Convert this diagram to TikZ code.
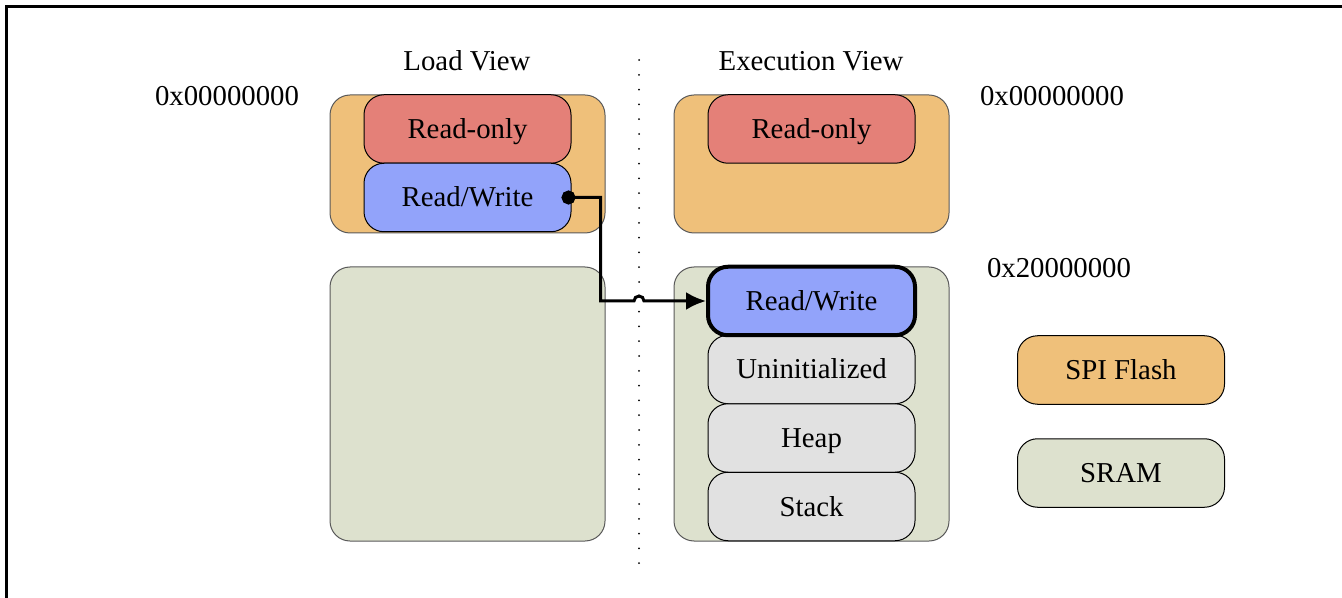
\documentclass[tikz,border=0pt]{standalone}
\usepackage{fontspec}
\setmainfont{Liberation Serif}
\usetikzlibrary{arrows.meta}

\definecolor{flashorange}{RGB}{239,192,122}
\definecolor{rored}{RGB}{228,128,120}
\definecolor{rwblue}{RGB}{146,163,250}
\definecolor{sramgreen}{RGB}{221,225,206}
\definecolor{segrey}{RGB}{225,225,225}

\tikzset{
  region/.style={draw=black!65, line width=0.5pt, rounded corners=10pt,
    minimum width=137.5pt, minimum height=69pt, inner sep=0pt},
  section/.style={draw=black, line width=0.5pt, rounded corners=10pt,
    minimum width=103.5pt, minimum height=34.25pt, inner sep=0pt,
    text height=11.5pt, text depth=2pt},
  link/.style={line width=1.5pt, {Circle[length=7pt]}-{Latex[length=10pt,width=9pt]}}
}

\begin{document}
\begin{tikzpicture}[x=0.5pt,y=-0.5pt,font=\fontsize{14.4}{17}\selectfont]
    \useasboundingbox (0,0) rectangle (1342,598);
    \draw[line width=1.2pt] (6.5,598) -- (6.5,6.5) -- (1342,6.5);

    % divider between the two views
    \coordinate (dtop) at (639,60);
    \coordinate (dbot) at (639,566);
    \draw[line width=1pt, line cap=round, dash pattern=on 0pt off 7.4pt] (dtop) -- (dbot);

    \node (loadlbl) at (467,61) {Load View};
    \node (execlbl) at (811,61) {Execution View};
    \node (laddr) at (227,96) {0x00000000};
    \node (xaddr) at (1052,96) {0x00000000};
    \node (saddr) at (1059,268) {0x20000000};

    % load view
    \node[region, fill=flashorange] (lflash) at (467.5,164) {};
    \node[section, fill=rored] (lro) at (467.5,129) {Read-only};
    \node[section, fill=rwblue] (lrw) at (467.5,197.5) {Read/Write};
    \node[region, fill=sramgreen, minimum height=137pt] (lsram) at (467.5,404) {};

    % execution view
    \node[region, fill=flashorange] (xflash) at (811.5,164) {};
    \node[section, fill=rored] (xro) at (811.5,129) {Read-only};
    \node[region, fill=sramgreen, minimum height=137pt] (xsram) at (811.5,404) {};
    \node[section, fill=segrey] (xbss) at (811.5,369.5) {Uninitialized};
    \node[section, fill=segrey] (xheap) at (811.5,438) {Heap};
    \node[section, fill=segrey] (xstack) at (811.5,506.5) {Stack};
    \node[section, fill=rwblue, line width=2pt] (xrw) at (811.5,301) {Read/Write};

    % legend
    \node[section, fill=flashorange] (keyflash) at (1121,370) {SPI Flash};
    \node[section, fill=sramgreen] (keysram) at (1121,473) {SRAM};

    % copy of the data section at startup
    \coordinate (hop) at (dtop |- xrw.west);
    \draw[link] ([xshift=-5pt]lrw.east) -- ++(39,0) |- ([xshift=-2.5pt]hop) arc (180:360:5) -- (xrw.west);
\end{tikzpicture}
\end{document}
